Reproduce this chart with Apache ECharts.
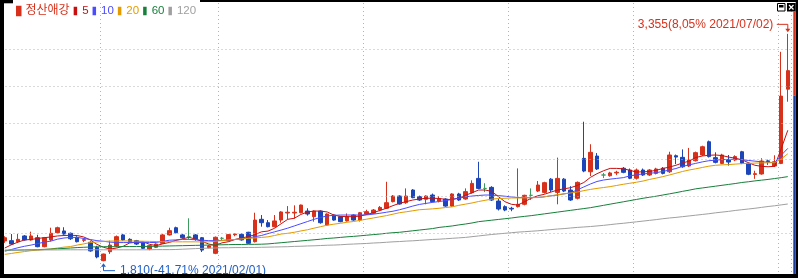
<!DOCTYPE html>
<html><head><meta charset="utf-8">
<script src="https://cdn.jsdelivr.net/npm/echarts@6/dist/echarts.min.js"></script>
<style>html,body{margin:0;padding:0;background:#fff}#c{width:798px;height:278px}</style>
</head><body><div id="c"></div>
<script>
const stockName = '정산애강';
const dates = [
'2021/01/11','2021/01/12','2021/01/13','2021/01/14','2021/01/15','2021/01/18','2021/01/19','2021/01/20','2021/01/21','2021/01/22','2021/01/25','2021/01/26','2021/01/27','2021/01/28','2021/01/29',
'2021/02/01','2021/02/02','2021/02/03','2021/02/04','2021/02/05','2021/02/08','2021/02/09','2021/02/10','2021/02/15','2021/02/16','2021/02/17','2021/02/18','2021/02/19','2021/02/22','2021/02/23','2021/02/24','2021/02/25','2021/02/26',
'2021/03/02','2021/03/03','2021/03/04','2021/03/05','2021/03/08','2021/03/09','2021/03/10','2021/03/11','2021/03/12','2021/03/15','2021/03/16','2021/03/17','2021/03/18','2021/03/19','2021/03/22','2021/03/23','2021/03/24','2021/03/25','2021/03/26','2021/03/29','2021/03/30','2021/03/31',
'2021/04/01','2021/04/02','2021/04/05','2021/04/06','2021/04/07','2021/04/08','2021/04/09','2021/04/12','2021/04/13','2021/04/14','2021/04/15','2021/04/16','2021/04/19','2021/04/20','2021/04/21','2021/04/22','2021/04/23','2021/04/26','2021/04/27','2021/04/28','2021/04/29','2021/04/30',
'2021/05/03','2021/05/04','2021/05/06','2021/05/07','2021/05/10','2021/05/11','2021/05/12','2021/05/13','2021/05/14','2021/05/17','2021/05/18','2021/05/20','2021/05/21','2021/05/24','2021/05/25','2021/05/26','2021/05/27','2021/05/28','2021/05/31',
'2021/06/01','2021/06/02','2021/06/03','2021/06/04','2021/06/07','2021/06/08','2021/06/09','2021/06/10','2021/06/11','2021/06/14','2021/06/15','2021/06/16','2021/06/17','2021/06/18','2021/06/21','2021/06/22','2021/06/23','2021/06/24','2021/06/25','2021/06/28','2021/06/29','2021/06/30',
'2021/07/01','2021/07/02'];
const opens = [
1948,1950,1943,1982,1955,1970,1909,1955,2004,2016,
2000,1973,1952,1939,1905,1814,1875,1914,1989,1959,
1950,1936,1893,1905,1932,1989,2038,1989,1977,1989,
1970,1902,1864,1966,1950,1990,1993,2007,1943,2095,
2072,2045,2090,2138,2138,2140,2151,2113,2151,2056,
2124,2113,2084,2124,2090,2131,2136,2158,2170,2215,
2253,2208,2294,2249,2231,2260,2219,2233,2185,2267,
2233,2276,2373,2305,2312,2219,2181,2170,2181,2197,
2258,2287,2278,2368,2278,2368,2294,2238,2509,2418,
2525,2396,2391,2410,2442,2430,2374,2430,2396,2407,
2442,2418,2527,2516,2457,2493,2532,2622,2514,2475,
2498,2498,2554,2475,2400,2403,2492,2457,2475,2979];
const closes = [
1970,1927,1959,1955,1982,1909,1970,2000,2038,1995,
1963,1943,1957,1880,1839,1859,1920,1977,1955,1943,
1927,1898,1916,1927,1989,2018,2004,1970,1977,1959,
1886,1914,1973,1966,1991,1995,1955,1932,2090,2072,
2045,2084,2145,2143,2143,2192,2131,2151,2072,2131,
2090,2079,2113,2090,2140,2147,2158,2176,2208,2253,
2199,2253,2242,2226,2253,2215,2235,2185,2267,2226,
2283,2339,2305,2305,2226,2165,2158,2165,2197,2258,
2258,2328,2344,2294,2373,2287,2226,2346,2423,2550,
2437,2396,2410,2415,2414,2374,2430,2396,2430,2437,
2407,2532,2518,2452,2498,2548,2588,2521,2482,2532,
2484,2521,2475,2401,2405,2491,2487,2486,2932,3105];
const lows = [
1935,1920,1935,1950,1950,1905,1905,1945,2000,1990,
1955,1938,1940,1875,1830,1810,1860,1905,1950,1936,
1920,1893,1885,1900,1930,1985,2000,1963,1961,1950,
1873,1898,1858,1955,1945,1980,1950,1928,1938,2045,
2040,2040,2072,2095,2100,2135,2120,2079,2065,2050,
2085,2075,2080,2085,2080,2125,2130,2150,2165,2210,
2195,2200,2238,2220,2197,2210,2210,2180,2180,2220,
2228,2270,2300,2280,2220,2155,2150,2150,2175,2190,
2226,2280,2270,2280,2197,2280,2220,2230,2415,2389,
2430,2375,2385,2395,2408,2368,2365,2390,2390,2400,
2400,2410,2470,2445,2450,2488,2525,2515,2475,2470,
2460,2490,2470,2395,2370,2398,2465,2450,2470,2894];
const highs = [
1980,1995,1995,1988,2011,1990,1975,2038,2045,2041,
2005,1980,1966,1945,1915,1862,1950,1985,1995,1966,
1955,1940,1920,1932,1995,2038,2045,1995,2102,1995,
1975,1920,1978,1975,1995,2000,2000,2010,2140,2124,
2090,2124,2150,2185,2190,2195,2170,2156,2156,2135,
2128,2118,2135,2128,2145,2160,2165,2185,2350,2260,
2258,2305,2300,2256,2258,2270,2253,2238,2272,2275,
2305,2360,2486,2340,2320,2235,2190,2180,2441,2262,
2305,2355,2350,2375,2514,2375,2320,2352,2758,2605,
2545,2410,2418,2425,2450,2440,2440,2440,2436,2445,
2450,2554,2535,2570,2580,2555,2595,2630,2550,2540,
2532,2530,2560,2480,2425,2510,2500,2530,3233,3355];
const ma5 = [
1900,1922,1940,1955,1958,1965,1970,1975,1982,1985,
1986,1985,1975,1955,1925,1905,1893,1900,1912,1935,
1940,1943,1925,1917,1928,1938,1952,1962,1973,1960,
1945,1927,1918,1935,1943,1958,1968,1978,1990,2010,
2015,2034,2065,2095,2102,2128,2145,2151,2151,2145,
2124,2115,2113,2113,2117,2128,2140,2155,2170,2188,
2204,2215,2226,2233,2238,2238,2237,2230,2230,2240,
2258,2275,2294,2294,2285,2250,2215,2197,2192,2215,
2238,2255,2265,2280,2294,2302,2310,2325,2345,2380,
2405,2425,2441,2441,2438,2428,2416,2418,2420,2428,
2440,2450,2462,2478,2490,2515,2525,2530,2532,2528,
2518,2510,2500,2480,2462,2455,2452,2455,2575,2700];
const ma10 = [
1878,1890,1902,1912,1920,1930,1940,1947,1960,1968,
1972,1972,1965,1958,1950,1946,1940,1937,1937,1937,
1937,1937,1937,1938,1945,1953,1955,1958,1959,1956,
1953,1950,1950,1952,1955,1958,1962,1968,1977,1985,
1998,2010,2022,2035,2050,2065,2080,2095,2108,2118,
2122,2124,2124,2124,2124,2125,2130,2136,2143,2150,
2160,2172,2185,2196,2203,2210,2216,2222,2230,2238,
2247,2253,2257,2260,2260,2256,2252,2247,2243,2242,
2242,2244,2248,2254,2260,2268,2275,2295,2315,2335,
2352,2362,2368,2373,2378,2390,2398,2403,2408,2412,
2420,2430,2440,2455,2465,2475,2485,2493,2497,2500,
2502,2503,2500,2495,2490,2486,2483,2480,2530,2577];
const ma20 = [
1857,1863,1870,1876,1882,1885,1889,1893,1900,1906,
1910,1920,1928,1937,1941,1945,1947,1948,1948,1948,
1947,1946,1945,1944,1943,1943,1942,1942,1942,1942,
1941,1942,1946,1950,1955,1958,1962,1966,1968,1972,
1976,1985,1995,2000,2007,2016,2024,2035,2045,2055,
2062,2068,2075,2080,2088,2096,2104,2112,2120,2130,
2140,2146,2153,2160,2163,2166,2170,2175,2180,2190,
2198,2206,2216,2224,2232,2236,2238,2240,2240,2241,
2242,2243,2248,2255,2262,2268,2274,2280,2290,2298,
2305,2311,2317,2325,2333,2340,2347,2355,2366,2375,
2385,2396,2408,2420,2430,2438,2447,2456,2462,2465,
2467,2470,2473,2475,2477,2478,2479,2480,2505,2540];
const ma60 = [
1884,1885,1886,1887,1888,1889,1891,1893,1895,1897,
1900,1903,1905,1907,1908,1909,1909,1909,1910,1910,
1910,1911,1911,1912,1913,1914,1915,1916,1917,1918,
1919,1920,1921,1922,1923,1924,1924,1925,1925,1926,
1928,1932,1936,1940,1944,1948,1952,1956,1960,1965,
1968,1972,1976,1979,1983,1987,1991,1995,2000,2004,
2007,2012,2017,2022,2027,2032,2040,2045,2050,2057,
2063,2070,2079,2084,2089,2094,2099,2104,2110,2115,
2120,2126,2132,2138,2144,2150,2156,2162,2168,2174,
2182,2190,2198,2206,2214,2222,2230,2238,2245,2252,
2260,2268,2276,2285,2293,2302,2308,2314,2320,2326,
2332,2338,2345,2350,2356,2361,2366,2372,2378,2385];
const ma120 = [
1886,1886,1886,1886,1887,1887,1887,1887,1887,1888,
1888,1888,1888,1888,1888,1888,1888,1888,1888,1888,
1888,1888,1888,1889,1889,1889,1890,1892,1894,1896,
1898,1899,1900,1902,1902,1903,1903,1904,1904,1905,
1906,1907,1908,1909,1911,1912,1914,1915,1917,1919,
1920,1922,1925,1927,1929,1931,1934,1936,1939,1942,
1944,1947,1949,1952,1955,1958,1960,1963,1966,1969,
1972,1977,1982,1987,1992,1996,2000,2004,2008,2011,
2014,2017,2021,2025,2029,2032,2036,2040,2043,2046,
2050,2054,2059,2064,2068,2073,2078,2083,2088,2093,
2099,2104,2108,2113,2118,2123,2128,2133,2139,2144,
2149,2155,2160,2165,2170,2176,2182,2187,2193,2199];
const maNames = ['5','10','20','60','120'];
const gridPrices = [2000,2250,2500,2750,3000,3250];

const UP = '#d7311b', DOWN = '#1c46b7', DOJI = '#3d9b5f';
const maColors = ['#c80f0f','#4b4bff','#e39b00','#17803a','#a0a0a0'];
const FONT = "'Liberation Sans','Noto Sans CJK KR',sans-serif";
const YMIN = 1723.5, YMAX = 3564.5;

const chart = echarts.init(document.getElementById('c'), null, {renderer: 'canvas'});
const candleData = dates.map((d, i) => {
  const v = [opens[i], closes[i], lows[i], highs[i]];
  if (opens[i] === closes[i]) {
    return {value: v, itemStyle: {color: DOJI, color0: DOJI, borderColor: DOJI, borderColor0: DOJI, borderColorDoji: DOJI}};
  }
  return v;
});
const monthStart = dates.map((d, i) => i > 0 && d.slice(5, 7) !== dates[i - 1].slice(5, 7));
const maData = [ma5, ma10, ma20, ma60, ma120];

const dotted = {color: '#b4b4b4', type: [1, 3], width: 1};
const option = {
  animation: false,
  backgroundColor: '#ffffff',
  grid: {left: 1.5, right: 6.9, top: 3, bottom: 4},
  xAxis: {
    type: 'category', data: dates, boundaryGap: true,
    axisLine: {show: false}, axisTick: {show: false}, axisLabel: {show: false},
    splitLine: {show: true, interval: (i) => monthStart[i], lineStyle: dotted}
  },
  yAxis: {
    type: 'value', min: YMIN, max: YMAX,
    axisLine: {show: false}, axisTick: {show: false}, axisLabel: {show: false},
    splitLine: {show: false}
  },
  legend: {
    left: 16, top: 5, padding: 0, itemGap: 4, itemWidth: 3.5, itemHeight: 8.5, icon: 'rect',
    selectedMode: false,
    textStyle: {fontFamily: FONT, fontSize: 11.5},
    data: [{name: stockName, textStyle: {color: UP, fontSize: 12}}].concat(
      maNames.map((n, k) => ({name: n, textStyle: {color: maColors[k]}})))
  },
  series: [{
    name: stockName, type: 'candlestick', data: candleData, barWidth: 4,
    itemStyle: {color: UP, color0: DOWN, borderColor: UP, borderColor0: DOWN, borderColorDoji: DOJI, borderWidth: 1},
    markLine: {
      silent: true, symbol: 'none', label: {show: false},
      lineStyle: dotted,
      data: gridPrices.map(p => ({yAxis: p}))
    }
  }].concat(maNames.map((n, k) => ({
    name: n, type: 'line', data: maData[k], showSymbol: false, symbol: 'none',
    lineStyle: {width: 1, color: maColors[k]}, itemStyle: {color: maColors[k]}, z: 3
  })))
};
chart.setOption(option);

// annotations for the period high / low, placed with the chart's own scales
const hiVal = Math.max(...highs), hiIdx = highs.indexOf(hiVal);
const loVal = Math.min(...lows), loIdx = lows.indexOf(loVal);
const last = closes[closes.length - 1];
const fmtNum = v => v.toLocaleString('en-US');
const fmtPct = v => ((v / last - 1) * 100).toFixed(2).replace('.', ',');
const hp = chart.convertToPixel({seriesIndex: 0}, [hiIdx, hiVal]);
const lp = chart.convertToPixel({seriesIndex: 0}, [loIdx, loVal]);
const HI_C = '#d7311b', LO_C = '#1f5fc8';
const hTip = hp[1] - 1.5, hLine = hTip - 8;
const lTip = lp[1] + 2, lLine = lTip + 7.4;
const graphics = [
  {type: 'polyline', shape: {points: [[hp[0] - 11, hLine], [hp[0], hLine], [hp[0], hTip - 3]]}, style: {stroke: HI_C, lineWidth: 1, fill: null}, z: 50},
  {type: 'polygon', shape: {points: [[hp[0] - 2.5, hTip - 3.5], [hp[0] + 2.5, hTip - 3.5], [hp[0], hTip]]}, style: {fill: HI_C}, z: 50},
  {type: 'text', x: hp[0] - 14.5, y: hLine, style: {text: fmtNum(hiVal) + '(' + fmtPct(hiVal) + '% ' + dates[hiIdx] + ')', fill: HI_C, font: "12px " + FONT, align: 'right', verticalAlign: 'middle'}, z: 50},
  {type: 'polyline', shape: {points: [[lp[0], lTip + 3], [lp[0], lLine], [lp[0] + 11.5, lLine]]}, style: {stroke: LO_C, lineWidth: 1, fill: null}, z: 50},
  {type: 'polygon', shape: {points: [[lp[0], lTip], [lp[0] - 2.5, lTip + 3.5], [lp[0] + 2.5, lTip + 3.5]]}, style: {fill: LO_C}, z: 50},
  {type: 'text', x: lp[0] + 16.5, y: lLine, style: {text: fmtNum(loVal) + '(' + fmtPct(loVal) + '% ' + dates[loIdx] + ')', fill: LO_C, font: "12px " + FONT, align: 'left', verticalAlign: 'middle'}, z: 50},
  // window frame
  {type: 'rect', shape: {x: 0, y: 0, width: 4, height: 278}, style: {fill: '#000'}, z: 100},
  {type: 'rect', shape: {x: 0, y: 274, width: 798, height: 4}, style: {fill: '#000'}, z: 100},
  {type: 'rect', shape: {x: 0, y: 0, width: 13, height: 3.3}, style: {fill: '#000'}, z: 100},
  {type: 'rect', shape: {x: 200, y: 0, width: 598, height: 2}, style: {fill: '#000'}, z: 100},
  {type: 'rect', shape: {x: 795.7, y: 0, width: 2.3, height: 278}, style: {fill: '#000'}, z: 100},
  {type: 'rect', shape: {x: 793.3, y: 11.7, width: 2.4, height: 84}, style: {fill: '#d7311b'}, z: 100},
  {type: 'rect', shape: {x: 793.3, y: 95.7, width: 2.4, height: 178.3}, style: {fill: '#1a3c9e'}, z: 100},
  {type: 'rect', shape: {x: 777.5, y: 3.5, width: 7.5, height: 7.5}, style: {fill: '#fff', stroke: '#000', lineWidth: 1}, z: 100},
  {type: 'rect', shape: {x: 779, y: 5, width: 4.5, height: 2.5}, style: {fill: '#000'}, z: 101},
  {type: 'rect', shape: {x: 787, y: 3, width: 8.7, height: 8.5}, style: {fill: '#000'}, z: 100},
  {type: 'polyline', shape: {points: [[789, 5], [793.5, 9.5]]}, style: {stroke: '#fff', lineWidth: 1.2}, z: 101},
  {type: 'polyline', shape: {points: [[793.5, 5], [789, 9.5]]}, style: {stroke: '#fff', lineWidth: 1.2}, z: 101}
];
chart.setOption({graphic: graphics});
</script></body></html>
